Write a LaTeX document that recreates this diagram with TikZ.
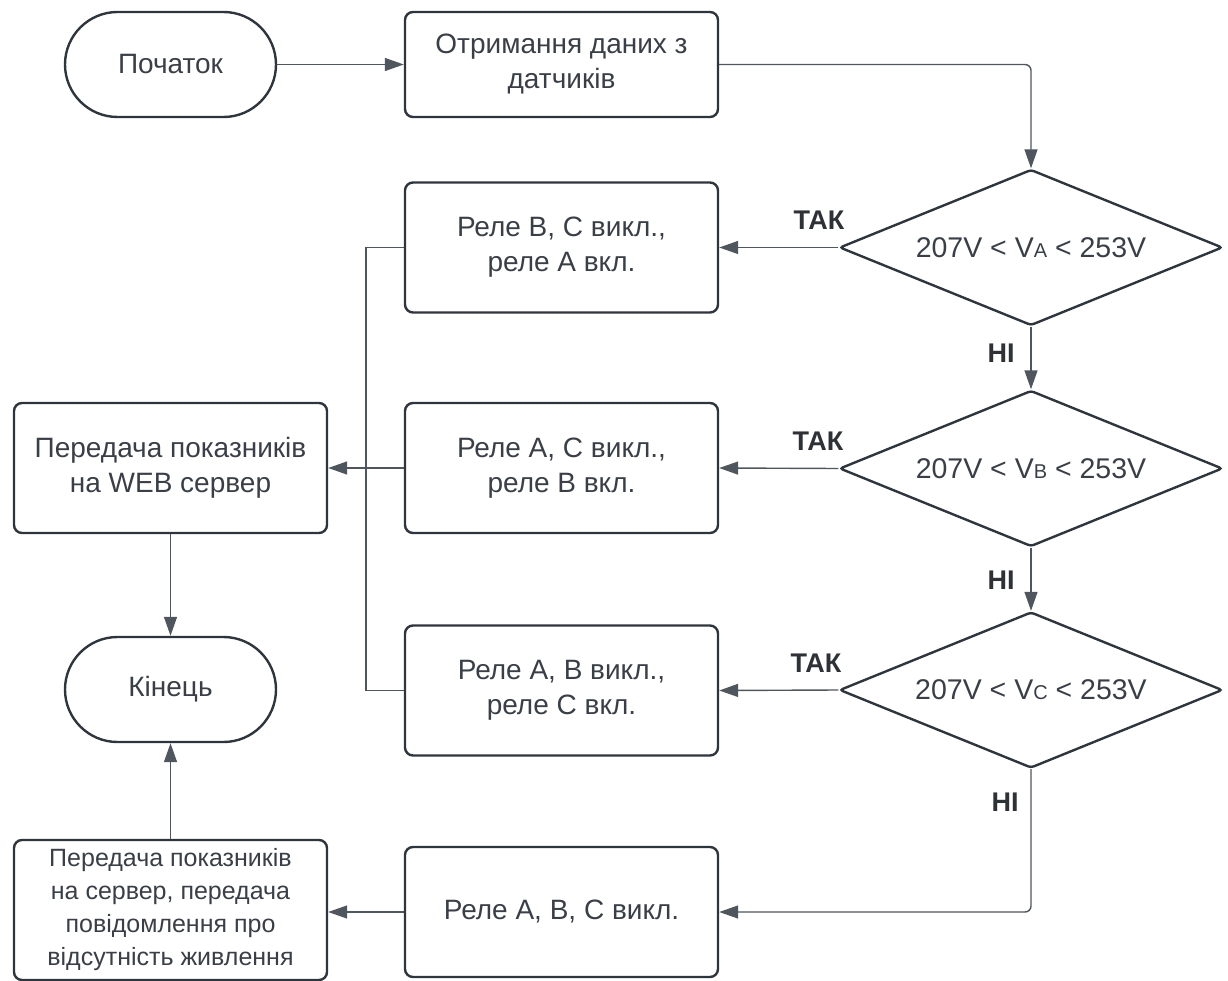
\documentclass[tikz,border=0pt]{standalone}
\usepackage{fontspec}
\setmainfont{Liberation Sans}
\usetikzlibrary{shapes.geometric,shapes.misc,arrows.meta}
\definecolor{ink}{HTML}{3A3F47}
\definecolor{edgec}{HTML}{2F353D}
\definecolor{wire}{HTML}{50565E}
\definecolor{lblc}{HTML}{2E3136}
\newcommand\subl[1]{{\fontsize{20}{20}\selectfont #1}}
\begin{document}
\begin{tikzpicture}[x=1pt,y=-1pt,
 base/.style={draw=edgec,line width=2.4pt,text=ink,font=\fontsize{28}{35}\selectfont,align=center,inner sep=0pt},
 term/.style={base,rounded rectangle,minimum width=211pt,minimum height=105pt},
 proc/.style={base,rectangle,rounded corners=8pt,minimum width=313pt,minimum height=130pt},
 dec/.style={base,diamond,aspect=2.45,minimum width=383pt,minimum height=156pt,rounded corners=3pt,font=\fontsize{28.5}{35}\selectfont},
 conn/.style={draw=wire,line width=1.4pt},
 arr/.style={conn,-{Triangle[length=19pt,width=13pt]}},
 lbl/.style={text=lblc,font=\fontsize{27}{27}\selectfont\bfseries,inner sep=0pt}]
\useasboundingbox (0,0) rectangle (1228,981);

\node[term] (start) at (170.5,64.5) {Початок};
\node[proc,minimum height=105pt] (get) at (561.5,64.5) {Отримання даних з\\датчиків};
\node[dec] (da) at (1031,247.5) {207V < V\subl{A} < 253V};
\node[proc] (ba) at (561.5,247.5) {Реле В, С викл.,\\реле А вкл.};
\node[dec] (db) at (1031,468.5) {207V < V\subl{B} < 253V};
\node[proc] (bb) at (561.5,468) {Реле А, С викл.,\\реле В вкл.};
\node[dec] (dc) at (1031,690) {207V < V\subl{C} < 253V};
\node[proc] (bc) at (561.5,690.5) {Реле А, В викл.,\\реле С вкл.};
\node[proc] (bd) at (561.5,912) {Реле А, В, С викл.};
\node[proc,minimum height=140pt,font=\fontsize{25}{33}\selectfont] (fin) at (170.5,910) {Передача показників\\на сервер, передача\\повідомлення про\\відсутність живлення};
\node[proc] (web) at (170.5,468) {Передача показників\\на WEB сервер};
\node[term] (end) at (170.5,689.5) {Кінець};

\node[lbl] (ta) at (819,220) {ТАК};
\node[lbl] (tb) at (818,441) {ТАК};
\node[lbl] (tc) at (816,663) {ТАК};
\node[lbl] (na) at (1001,353) {НІ};
\node[lbl] (nb) at (1001,580) {НІ};
\node[lbl] (nc) at (1005,802) {НІ};

\draw[arr] (start.east) -- (get.west);
\draw[arr,rounded corners=6pt] (get.east) -| (da.north);
\draw[arr] (da.west) -- (ba.east);
\draw[arr] (da.south) -- (db.north);
\draw[arr] (db.west) -- (bb.east);
\draw[arr] (db.south) -- (dc.north);
\draw[arr] (dc.west) -- (bc.east);
\draw[arr,rounded corners=6pt] (dc.south) |- (bd.east);
\draw[arr] (bd.west) -- (bd.west -| fin.east);
\draw[arr] (fin.north) -- (end.south);
\draw[arr] (web.south) -- (end.north);
\draw[conn] (ba.west) -- ++(-38,0) coordinate (bus) |- (bc.west);
\draw[arr] (bb.west) -- (web.east);
\end{tikzpicture}
\end{document}
